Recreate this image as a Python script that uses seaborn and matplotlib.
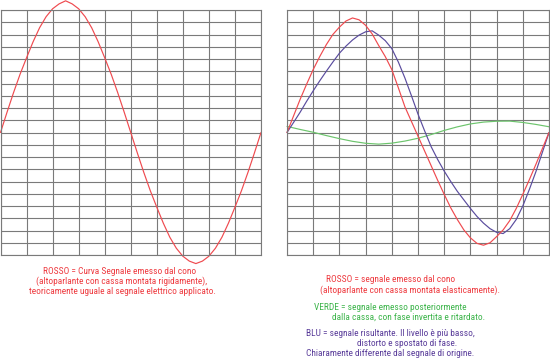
import numpy as np
import pandas as pd
import matplotlib
matplotlib.use("Agg")
import matplotlib.pyplot as plt
from matplotlib import font_manager
import seaborn as sns

# ---------------- data (grid units: x = columns 0..10, y = rows -10..10) -------------
t_fine = np.linspace(0, 10, 41)   # sample positions every quarter column
t_half = np.linspace(0, 10, 21)   # sample positions every half column

# left panel: red curve (rigidly mounted box)
left_red = [0, 1.65, 3.25, 4.75, 6.1, 7.4, 8.55, 9.45, 10.1, 10.5, 10.75,
            10.5, 10.1, 9.45, 8.55, 7.4, 6.1, 4.75, 3.25, 1.65, 0,
            -1.65, -3.25, -4.75, -6.1, -7.4, -8.55, -9.45, -10.1, -10.5, -10.7,
            -10.5, -10.1, -9.45, -8.55, -7.4, -6.1, -4.75, -3.25, -1.65, 0]

# right panel: red (cone), blue (resulting), green (rear emission)
right_red = [0, 1.35, 2.7, 3.95, 5.14, 6.2, 7.17, 8.0, 8.6, 9.1, 9.35,
             9.2, 8.75, 8.05, 7.1, 6.2, 5.14, 3.65, 2.1, 0.9, -0.3,
             -1.5, -2.7, -3.9, -5.05, -6.15, -7.1, -7.95, -8.6, -9.05, -9.2,
             -9.0, -8.5, -7.95, -7.2, -6.2, -5.05, -3.85, -2.6, -1.3, 0]
right_blue = [0, 0.82, 1.65, 2.55, 3.4, 4.22, 5.0, 5.75, 6.47, 7.05, 7.55,
              7.95, 8.22, 8.3, 7.95, 7.5, 6.85, 5.75, 4.45, 3.0, 1.5,
              0.15, -1.15, -2.2, -3.15, -4.0, -4.8, -5.5, -6.2, -6.85, -7.4,
              -7.85, -8.15, -8.25, -7.85, -7.1, -6.0, -4.65, -3.2, -1.6, 0]
right_green = [0.5, 0.25, 0.02, -0.25, -0.5, -0.72, -0.88, -0.95, -0.87, -0.7, -0.47,
               -0.17, 0.17, 0.46, 0.7, 0.85, 0.92, 0.93, 0.82, 0.66, 0.47]

left_caption = ["ROSSO = Curva Segnale emesso dal cono",
                "(altoparlante con cassa montata rigidamente),",
                "teoricamente uguale al segnale elettrico applicato."]
right_red_caption = ["ROSSO = segnale emesso dal cono",
                     "(altoparlante con cassa montata elasticamente)."]
right_green_caption = ["VERDE = segnale emesso posteriormente",
                       "dalla cassa, con fase invertita e ritardato."]
right_blue_caption = ["BLU = segnale risultante. Il livello è più basso,",
                      "distorto e spostato di fase.",
                      "Chiaramente differente dal segnale di origine."]

# ---------------- style ----------------
RED = "#ef4a4f"
BLUE = "#5a4c9e"
GREEN = "#6cc46c"
RED_TXT = "#ee3b40"
GREEN_TXT = "#3cb44a"
BLUE_TXT = "#5a3d9a"
GRID = "#7a7a7a"

sns.set_theme(style="white")

# choose the narrowest available humanist sans for the captions
names = {f.name for f in font_manager.fontManager.ttflist}
stretch = "normal"
cap_family = "DejaVu Sans"
for cand in ["Liberation Sans Narrow", "Roboto Condensed", "Open Sans Condensed",
             "Noto Sans Condensed"]:
    if cand in names:
        cap_family = cand
        break
else:
    if any(f.name == "DejaVu Sans" and f.stretch == "condensed"
           for f in font_manager.fontManager.ttflist):
        cap_family, stretch = "DejaVu Sans", "condensed"
    elif "Lato" in names:
        cap_family = "Lato"
plt.rcParams["font.family"] = [cap_family, "DejaVu Sans"]

W, H = 550, 359
fig = plt.figure(figsize=(W / 100, H / 100), dpi=100)
fig.patch.set_facecolor("white")


def make_axes(x0, x1, y0, y1):
    ax = fig.add_axes([x0 / W, 1 - y1 / H, (x1 - x0) / W, (y1 - y0) / H])
    ax.set_xlim(0, 10)
    ax.set_ylim(-10, 10)
    ax.set_xticks(range(0, 11))
    ax.set_yticks(range(-10, 11))
    ax.grid(True, color=GRID, linewidth=0.8)
    ax.set_axisbelow(True)
    ax.tick_params(length=0, labelbottom=False, labelleft=False)
    for s in ax.spines.values():
        s.set_color(GRID)
        s.set_linewidth(0.8)
    ax.set_facecolor("white")
    return ax


axL = make_axes(0.5, 261, 10, 255)
axR = make_axes(287, 549, 10, 255)

dfL = pd.DataFrame({"t": t_fine, "v": left_red})
sns.lineplot(data=dfL, x="t", y="v", ax=axL, color=RED, linewidth=0.85,
             estimator=None, sort=False)

dfG = pd.DataFrame({"t": t_half, "v": right_green})
dfR = pd.DataFrame({"t": t_fine, "v": right_red})
dfB = pd.DataFrame({"t": t_fine, "v": right_blue})
sns.lineplot(data=dfG, x="t", y="v", ax=axR, color=GREEN, linewidth=0.85,
             estimator=None, sort=False)
sns.lineplot(data=dfB, x="t", y="v", ax=axR, color=BLUE, linewidth=0.85,
             estimator=None, sort=False)
sns.lineplot(data=dfR, x="t", y="v", ax=axR, color=RED, linewidth=0.85,
             estimator=None, sort=False)

for ax in (axL, axR):
    ax.set_xlabel("")
    ax.set_ylabel("")
    for ln in ax.lines:
        ln.set_clip_on(False)

# caption lines: (text, left px, right px, y px, colour)
specs = []
for s, a, b, y in zip(left_caption, [42, 31, 26], [198, 213, 218], [271, 281, 291]):
    specs.append((s, a, b, y, RED_TXT))
for s, a, b, y in zip(right_red_caption, [325, 318], [457, 502], [280, 290]):
    specs.append((s, a, b, y, RED_TXT))
for s, a, b, y in zip(right_green_caption, [312, 332], [469, 486], [307, 317]):
    specs.append((s, a, b, y, GREEN_TXT))
for s, a, b, y in zip(right_blue_caption, [303, 361, 308], [477, 454, 473],
                      [333, 343, 353]):
    specs.append((s, a, b, y, BLUE_TXT))

# fit a single font size so the lines span the same widths as the reference
renderer = fig.canvas.get_renderer()
ratios = []
for s, a, b, y, c in specs:
    tt = fig.text(0, 0, s, fontsize=10, fontstretch=stretch)
    w = tt.get_window_extent(renderer).width
    tt.remove()
    ratios.append((b - a) / w)
FS = 10 * float(np.median(ratios)) * 0.97

for s, a, b, y, c in specs:
    fig.text(((a + b) / 2) / W, 1 - y / H, s, ha="center", va="center",
             fontsize=FS, color=c, fontstretch=stretch)

fig.savefig("out.png", dpi=100, facecolor="white")
